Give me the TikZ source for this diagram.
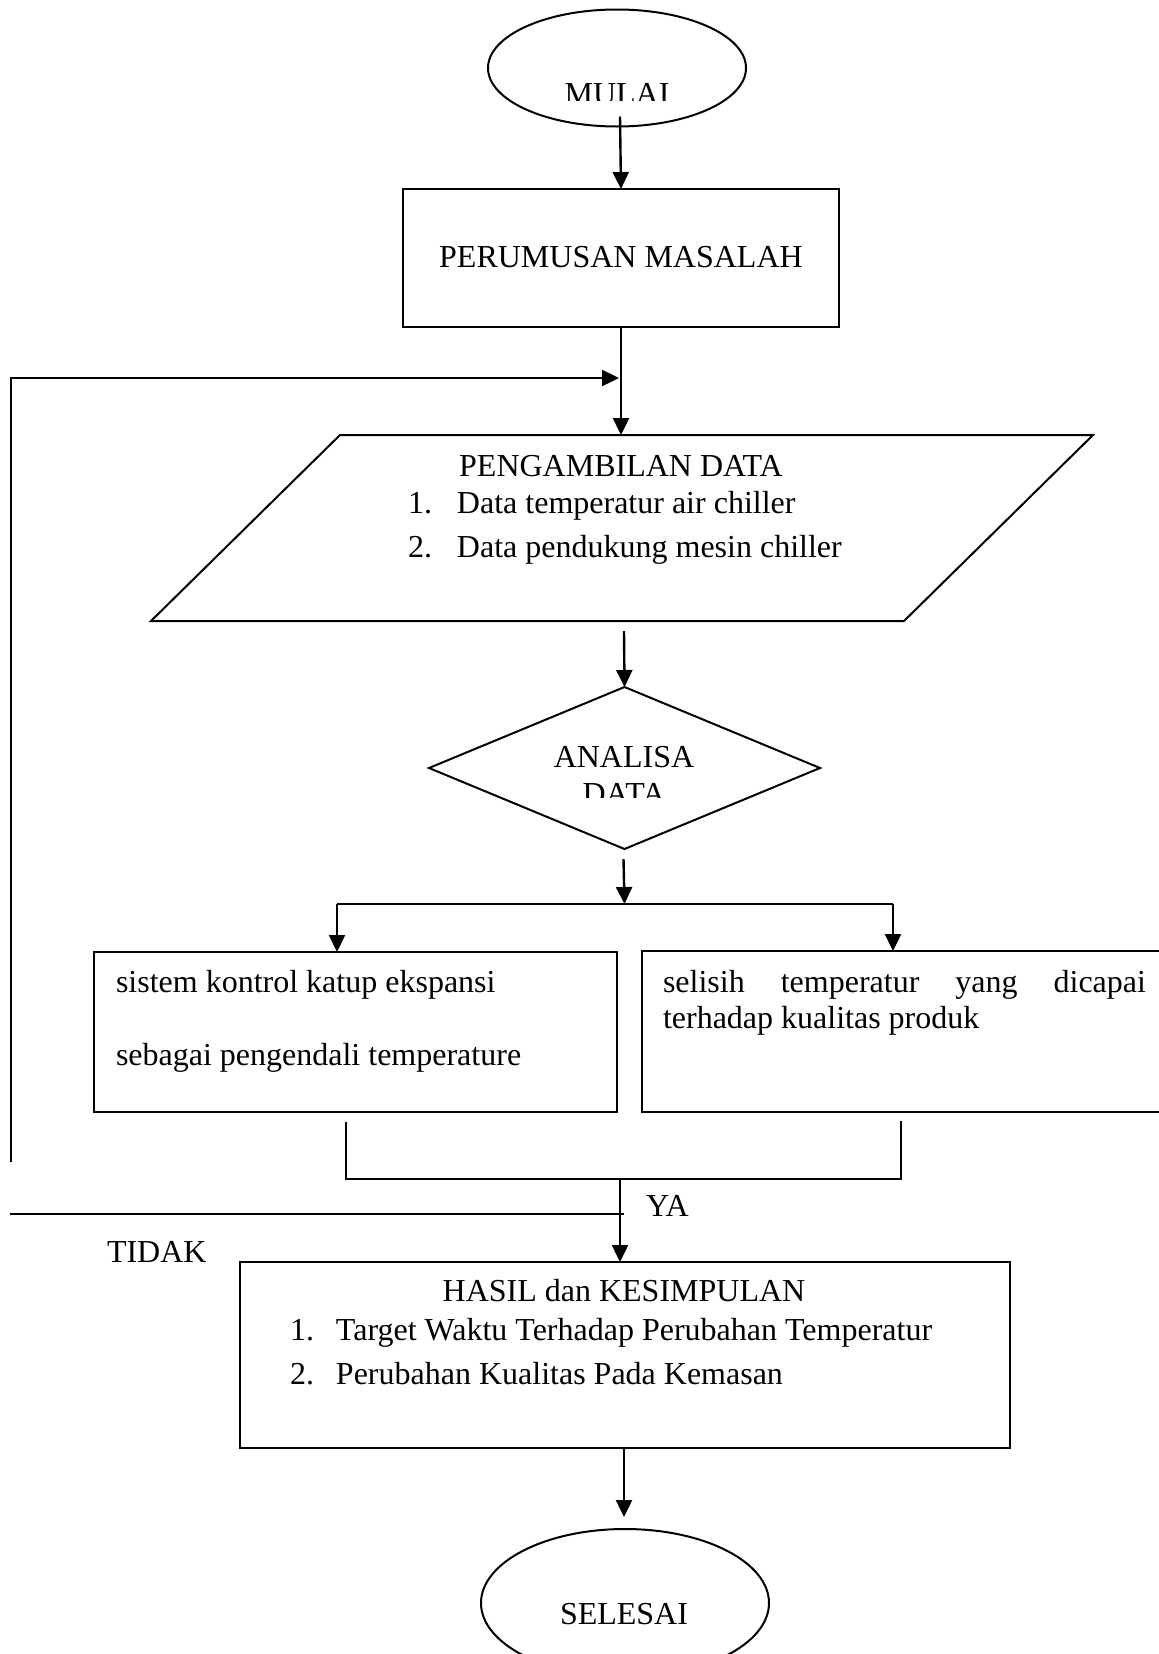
\documentclass[tikz,border=0pt]{standalone}
\usepackage{fontspec}
\setmainfont{Liberation Serif}
\usetikzlibrary{shapes.geometric,arrows.meta}
\begin{document}
\begin{tikzpicture}[x=0.5pt,y=-0.5pt,
  line width=1pt,
  shp/.style={draw,inner sep=0pt,outer sep=0pt},
  box/.style={shp,rectangle},
  oval/.style={shp,ellipse},
  lbl/.style={inner sep=0pt,outer sep=0pt,font=\fontsize{16pt}{19pt}\selectfont},
  arr/.style={line width=1.2pt,-{Triangle[width=8pt,length=8.5pt]}}]
\clip (0,0) rectangle (1159,1654);
\fill[white] (0,0) rectangle (1159,1654);

% MULAI
\node[oval,minimum width=129pt,minimum height=58.5pt] (mulai) at (617,68) {};
\begin{scope}
  \clip (0,0) rectangle (1159,100);
  \node[lbl,anchor=base] (tmulai) at (617,104) {MULAI};
\end{scope}

% PERUMUSAN MASALAH
\node[box,minimum width=218pt,minimum height=69pt] (rumus) at (621,258) {};
\node[lbl,anchor=base] (trumus) at (621,267) {PERUMUSAN MASALAH};

% PENGAMBILAN DATA (parallelogram)
\node[rectangle,inner sep=0pt,outer sep=0pt,minimum width=471pt,minimum height=93pt] (data) at (622,528) {};
\draw ([xshift=94.5pt]data.north west) -- (data.north east)
      -- ([xshift=-94.5pt]data.south east) -- (data.south west) -- cycle;
\node[lbl,anchor=base] (tdata) at (621,476) {PENGAMBILAN DATA};
\node[lbl,anchor=base west] (tdata1) at (408,513) {\makebox[24.5pt][l]{1.}Data temperatur air chiller};
\node[lbl,anchor=base west] (tdata2) at (408,557) {\makebox[24.5pt][l]{2.}Data pendukung mesin chiller};

% ANALISA DATA
\node[shp,diamond,minimum width=195.5pt,minimum height=81pt] (analisa) at (624.5,768) {};
\node[lbl,anchor=base] (tanalisa) at (624,767) {ANALISA};
\begin{scope}
  \clip (0,0) rectangle (1159,797);
  \node[lbl,anchor=base] (tanalisa2) at (624,804) {DATA};
\end{scope}

% two boxes
\node[box,minimum width=261.5pt,minimum height=80pt] (lbox) at (355.5,1032) {};
\node[lbl,anchor=base west] (tl1) at (116,992) {sistem kontrol katup ekspansi};
\node[lbl,anchor=base west] (tl2) at (116,1065) {sebagai pengendali temperature};

\node[box,minimum width=269pt,minimum height=80.5pt] (rbox) at (911,1031.5) {};
\node[lbl,anchor=base west] (tr1) at (663,992) {\makebox[241.5pt][s]{selisih temperatur yang dicapai}};
\node[lbl,anchor=base west] (tr2) at (663,1028) {terhadap kualitas produk};

% HASIL
\node[box,minimum width=385pt,minimum height=93pt] (hasil) at (625,1355) {};
\node[lbl,anchor=base] (th) at (624,1301) {HASIL dan KESIMPULAN};
\node[lbl,anchor=base west] (th1) at (290,1340) {\makebox[23pt][l]{1.}Target Waktu Terhadap Perubahan Temperatur};
\node[lbl,anchor=base west] (th2) at (290,1384) {\makebox[23pt][l]{2.}Perubahan Kualitas Pada Kemasan};

% SELESAI
\node[oval,minimum width=144pt,minimum height=74pt] (selesai) at (625,1603) {};
\node[lbl,anchor=base] (tsel) at (624,1624) {SELESAI};

% connectors
\draw[arr] ([shift={(3,-10)}]mulai.south) -- (rumus.north);
\draw[arr] (rumus.south) -- (rumus.south |- data.north);
\coordinate (loopA) at (11,1162);
\coordinate (loopB) at (619,378);
\draw[arr] (loopA) |- (loopB);
\draw[arr] ([shift={(2,10)}]data.south) -- (analisa.north);
\coordinate (sL) at (337,904);
\coordinate (sR) at (893,904);
\draw[arr] ([shift={(-1,10)}]analisa.south) -- (analisa.south |- sL);
\draw (sL) -- (sR);
\draw[arr] (sL) -- (sL |- lbox.north);
\draw[arr] (sR) -- (sR |- rbox.north);
\coordinate (bL) at (346,1122);
\coordinate (bR) at (901,1121);
\coordinate (bM) at (620,1179);
\draw (bL) -- (bL |- bM) -- (bR |- bM) -- (bR);
\draw[arr] (bM) -- (bM |- hasil.north);
\coordinate (tA) at (10,1214);
\coordinate (tB) at (624,1214);
\draw (tA) -- (tB);
\node[lbl,anchor=base west] (ya) at (646,1216) {YA};
\node[lbl,anchor=base west] (tidak) at (107,1262) {TIDAK};
\draw[arr] ([xshift=-0.5pt]hasil.south) -- ([shift={(-1,-12)}]selesai.north);
\end{tikzpicture}
\end{document}
